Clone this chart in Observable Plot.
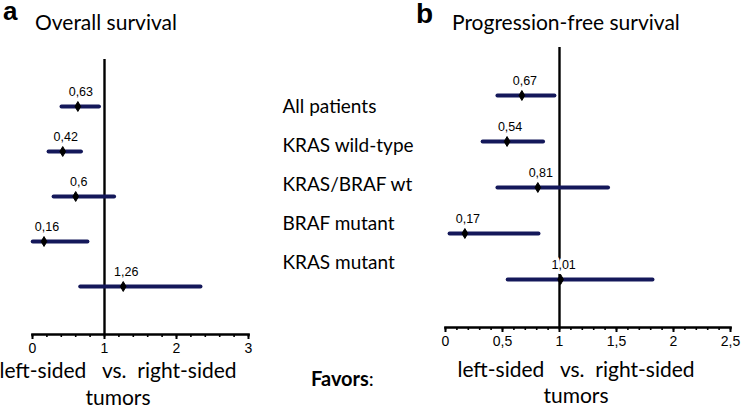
<!DOCTYPE html>
<html>
<head>
<meta charset="utf-8">
<script src="https://cdn.jsdelivr.net/npm/d3@7"></script>
<script src="https://cdn.jsdelivr.net/npm/@observablehq/plot@0.6"></script>
<style>
  body { margin: 0; background: #fff; }
  #wrap { position: relative; width: 742px; height: 408px; overflow: hidden; background: #fff; }
  #wrap > svg, #wrap > figure { position: absolute; margin: 0; }
  .ov { position: absolute; left: 0; top: 0; }
</style>
</head>
<body>
<div id="wrap"></div>
<script>
// ---- data ----
const categories = ["All patients", "KRAS wild-type", "KRAS/BRAF wt", "BRAF mutant", "KRAS mutant"];
// Overall survival hazard ratios with 95% CI
const osHR   = [0.63, 0.42, 0.60, 0.16, 1.26];
const osLow  = [0.41, 0.23, 0.30, 0.01, 0.67];
const osHigh = [0.93, 0.68, 1.14, 0.77, 2.34];
// Progression-free survival hazard ratios with 95% CI
const pfsHR   = [0.67, 0.54, 0.81, 0.17, 1.01];
const pfsLow  = [0.46, 0.33, 0.46, 0.04, 0.55];
const pfsHigh = [0.96, 0.86, 1.43, 0.82, 1.82];
// axis ticks
const osTicks  = [0, 1, 2, 3];
const pfsTicks = [0, 0.5, 1, 1.5, 2, 2.5];

const fmt = d => String(d).replace(".", ",");
const navy = "#14185a";
const calibri = "Lato, 'Open Sans', sans-serif";
const arial = "Arial, 'Liberation Sans', sans-serif";

function panel({hr, lo, hi, domain, ticks, minorStep, width, marginLeft, marginRight, marginTop, marginBottom, yRange}) {
  const rows = categories.map((c, i) => ({c, hr: hr[i], lo: lo[i], hi: hi[i]}));
  const minor = d3.range(domain[0], domain[1] + minorStep / 2, minorStep);
  return Plot.plot({
    width, height: 408, marginLeft, marginRight, marginTop, marginBottom,
    style: {fontFamily: arial, fontSize: "14px", background: "transparent", overflow: "visible"},
    x: {domain, axis: null},
    y: {type: "point", domain: categories, range: yRange, padding: 0, axis: null},
    marks: [
      Plot.ruleX([1], {stroke: "black", strokeWidth: 2.4}),
      Plot.frame({anchor: "bottom", stroke: "black", strokeWidth: 2.6}),
      Plot.axisX({ticks: minor, tickSize: 3, tickFormat: () => "", strokeWidth: 1.6, stroke: "black"}),
      Plot.axisX({ticks, tickSize: 5, tickFormat: () => "", strokeWidth: 2, stroke: "black"}),
      Plot.text(ticks, {x: d => d, frameAnchor: "bottom", lineAnchor: "middle", dy: 14.5, text: fmt, fontSize: 14, fontFamily: arial, fill: "black"}),
      Plot.ruleY(rows, {y: "c", x1: "lo", x2: "hi", stroke: navy, strokeWidth: 4, strokeLinecap: "round"}),
      Plot.dot(rows, {x: "hr", y: "c", symbol: "diamond", r: 3, fill: "black", stroke: "black", strokeWidth: 1}),
      Plot.text(rows, {x: "hr", y: "c", text: d => fmt(d.hr), dy: -15, dx: 3, fontSize: 12.5, fill: "black", stroke: "white", strokeWidth: 7})
    ]
  });
}

const wrap = document.getElementById("wrap");

const a = panel({hr: osHR, lo: osLow, hi: osHigh, domain: [0, 3], ticks: osTicks, minorStep: 0.2,
  width: 270, marginLeft: 32, marginRight: 22, marginTop: 59, marginBottom: 74, yRange: [104, 287]});
a.style.left = "0px"; a.style.top = "0px";
wrap.appendChild(a);

const b = panel({hr: pfsHR, lo: pfsLow, hi: pfsHigh, domain: [0, 2.5], ticks: pfsTicks, minorStep: 0.1,
  width: 342, marginLeft: 45, marginRight: 12, marginTop: 47, marginBottom: 81, yRange: [94, 280]});
b.style.left = "400px"; b.style.top = "0px";
wrap.appendChild(b);

// category labels column
const lab = Plot.plot({
  width: 160, height: 408, marginLeft: 20, marginRight: 0, marginTop: 0, marginBottom: 0,
  style: {background: "transparent", overflow: "visible"},
  x: {axis: null}, y: {type: "point", domain: categories, range: [105, 263], padding: 0, axis: null},
  marks: [
    Plot.text(categories, {y: d => d, frameAnchor: "left", textAnchor: "start", fontSize: 19, fontFamily: calibri, fill: "black"})
  ]
});
lab.style.left = "262px"; lab.style.top = "0px";
wrap.appendChild(lab);

// titles, axis titles, "Favors:"
const ns = "http://www.w3.org/2000/svg";
const ov = document.createElementNS(ns, "svg");
ov.setAttribute("class", "ov"); ov.setAttribute("width", 742); ov.setAttribute("height", 408);
function t(x, y, str, opts = {}) {
  const e = document.createElementNS(ns, "text");
  e.setAttribute("x", x); e.setAttribute("y", y);
  e.setAttribute("font-family", opts.family || calibri);
  e.setAttribute("font-size", opts.size || 20);
  if (opts.weight) e.setAttribute("font-weight", opts.weight);
  if (opts.anchor) e.setAttribute("text-anchor", opts.anchor);
  e.style.whiteSpace = "pre";
  e.textContent = str;
  ov.appendChild(e);
  return e;
}
t(3, 20, "a", {family: arial, size: 26, weight: "bold"});
t(35, 30, "Overall survival", {size: 21});
t(416, 23, "b", {family: arial, size: 28, weight: "bold"});
t(452, 30, "Progression-free survival", {size: 21});
t(118, 378, "left-sided   vs.  right-sided", {size: 21, anchor: "middle"});
t(118, 405, "tumors", {size: 21, anchor: "middle"});
t(576, 377, "left-sided   vs.  right-sided", {size: 21, anchor: "middle"});
t(576, 403, "tumors", {size: 21, anchor: "middle"});
const fav = t(311, 386, "", {size: 20});
const fb = document.createElementNS(ns, "tspan"); fb.setAttribute("font-weight", "bold"); fb.textContent = "Favors";
const fc = document.createElementNS(ns, "tspan"); fc.textContent = ":";
fav.appendChild(fb); fav.appendChild(fc);
wrap.appendChild(ov);
</script>
</body>
</html>
